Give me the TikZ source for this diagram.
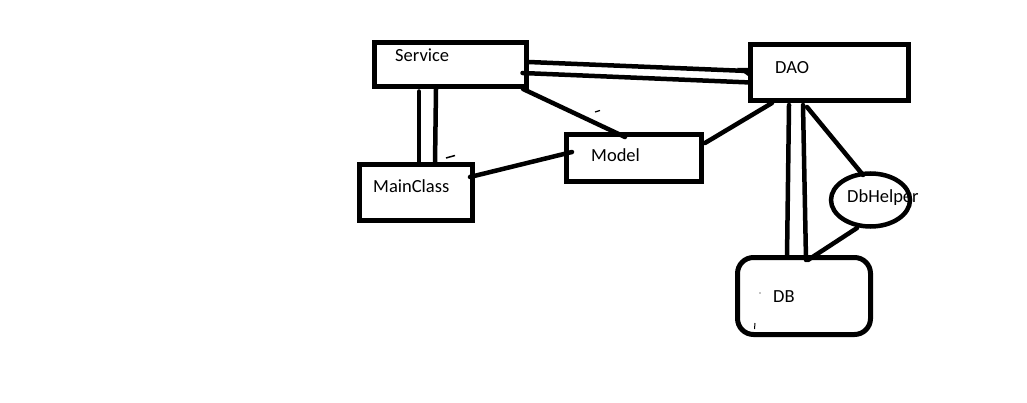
\documentclass[tikz,border=0pt]{standalone}
\usepackage{fontspec}
\setmainfont{Carlito}
\usetikzlibrary{shapes.geometric}
\begin{document}
\begin{tikzpicture}[x=1pt,y=-1pt,
  box/.style={draw,line width=5pt,rectangle,inner sep=0pt,outer sep=0pt},
  lbl/.style={anchor=base west,inner sep=0pt,font=\fontsize{18.5}{20}\selectfont},
  conn/.style={line width=4.5pt,line cap=round}]
\useasboundingbox[fill=white] (0,0) rectangle (1027,403);
% boxes
\node[box,minimum width=152pt,minimum height=44pt] (svc) at (450.5,64.5) {};
\node[box,minimum width=158pt,minimum height=56pt] (dao) at (829.5,72.5) {};
\node[box,minimum width=135pt,minimum height=47pt] (model) at (634,158) {};
\node[box,minimum width=113pt,minimum height=56pt] (main) at (416,192.5) {};
\node[draw,ellipse,line width=4.5pt,inner sep=0pt,outer sep=0pt,minimum width=79pt,minimum height=53pt] (helper) at (870.5,200) {};
\node[box,rounded corners=16pt,minimum width=133pt,minimum height=77pt] (db) at (804,296) {};
% labels
\node[lbl] (svct) at (395,62) {Service};
\node[lbl] (daot) at (775,73.5) {DAO};
\node[lbl] (modelt) at (591,162) {Model};
\node[lbl] (maint) at (373,193) {MainClass};
\node[lbl] (helpert) at (847,203) {DbHelper};
\node[lbl] (dbt) at (773,302) {DB};
% connectors
\draw[conn] ([shift={(2,-2.5)}]svc.east) -- ([shift={(-3,-1.5)}]dao.west);
\draw[conn] ([shift={(-4,8.5)}]svc.east) -- ([shift={(0,10)}]dao.west);
\draw[conn] ([shift={(-31.5,5)}]svc.south) -- ([shift={(3,-1)}]main.north);
\draw[conn] ([shift={(-14.5,2.5)}]svc.south) -- ([shift={(19,-1)}]main.north);
\draw[conn] ([shift={(-3.5,2.5)}]svc.south east) -- ([shift={(-9,2.5)}]model.north);
\draw[conn] ([shift={(-2.5,-15.5)}]main.east) -- ([shift={(5.5,-6)}]model.west);
\draw[conn] ([shift={(3.5,-15)}]model.east) -- ([shift={(21.5,2.5)}]dao.south west);
\draw[conn] ([shift={(38.5,4.5)}]dao.south west) -- ([shift={(-17,0)}]db.north);
\draw[conn] ([shift={(52.5,4.5)}]dao.south west) -- ([shift={(2,2.5)}]db.north);
\draw[conn] ([shift={(56.5,6.5)}]dao.south west) -- ([shift={(-7.5,1.5)}]helper.north);
\draw[conn] ([shift={(-13.5,1.5)}]helper.south) -- ([shift={(4,2.5)}]db.north);
% stray marks
\draw[line width=1.5pt] (446,158) -- (455,155.5);
\draw[line width=1.2pt] (595,112) -- (600,110.5);
\draw[line width=1pt] (755,323) -- (754.5,329);
\fill (760,293) circle (0.6pt);
\fill (737,68) -- (748,68) -- (748,76) -- cycle;
\end{tikzpicture}
\end{document}
